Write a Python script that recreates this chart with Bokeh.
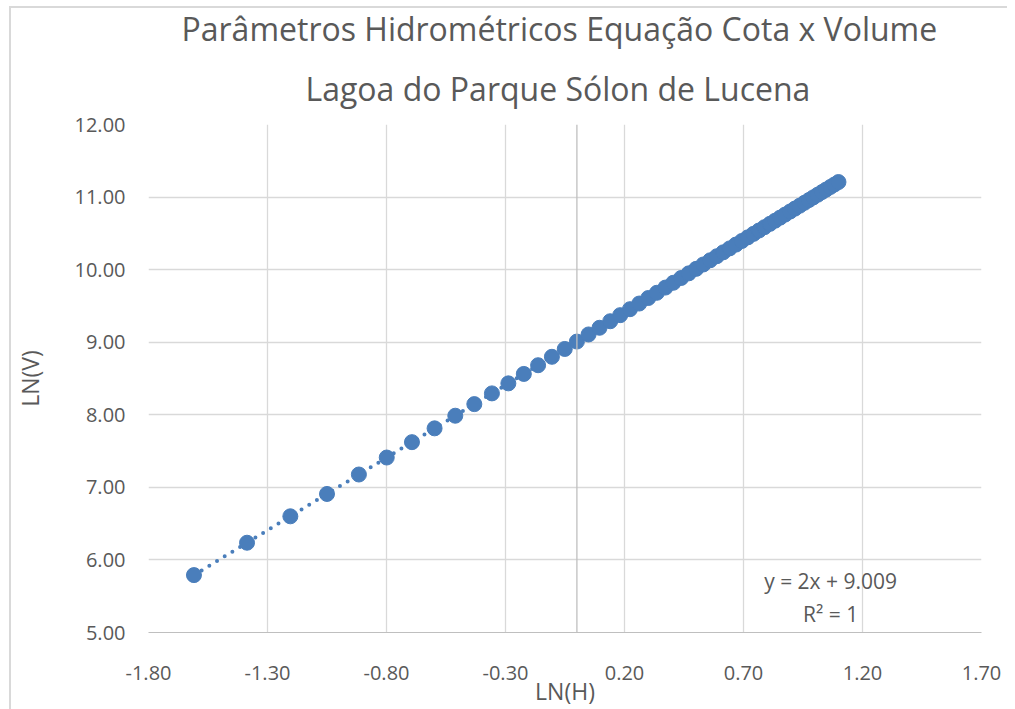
from bokeh.plotting import figure
from bokeh.models import (Range1d, FixedTicker, PrintfTickFormatter, Span, Title,
                          ColumnDataSource)
from bokeh.core.properties import value
from bokeh.embed import file_html
from bokeh.resources import INLINE

# ---- data ----
ln_h = [-1.609, -1.386, -1.204, -1.050, -0.916, -0.799, -0.693, -0.598, -0.511, -0.431,
        -0.357, -0.288, -0.223, -0.163, -0.105, -0.051, 0.000, 0.049, 0.095, 0.140,
        0.182, 0.223, 0.262, 0.300, 0.336, 0.372, 0.405, 0.438, 0.470, 0.501,
        0.531, 0.560, 0.588, 0.615, 0.642, 0.668, 0.693, 0.718, 0.742, 0.765,
        0.788, 0.811, 0.833, 0.854, 0.875, 0.896, 0.916, 0.936, 0.956, 0.975,
        0.993, 1.012, 1.030, 1.047, 1.065, 1.082, 1.099]
ln_v = [5.791, 6.237, 6.601, 6.909, 7.177, 7.411, 7.623, 7.813, 7.987, 8.147,
        8.295, 8.433, 8.563, 8.683, 8.799, 8.907, 9.009, 9.107, 9.199, 9.289,
        9.373, 9.455, 9.533, 9.609, 9.681, 9.753, 9.819, 9.885, 9.949, 10.011,
        10.071, 10.129, 10.185, 10.239, 10.293, 10.345, 10.395, 10.445, 10.493, 10.539,
        10.585, 10.631, 10.675, 10.717, 10.759, 10.801, 10.841, 10.881, 10.921, 10.959,
        10.995, 11.033, 11.069, 11.103, 11.139, 11.173, 11.207]
trend_slope = 2.0
trend_intercept = 9.009
x_ticks = [-1.8, -1.3, -0.8, -0.3, 0.2, 0.7, 1.2, 1.7]
y_ticks = [5, 6, 7, 8, 9, 10, 11, 12]
title_line1 = "Parâmetros Hidrométricos Equação Cota x Volume"
title_line2 = "Lagoa do Parque Sólon de Lucena"
eq_lines = ["y = 2x + 9.009", "R² = 1"]

FONT = "Open Sans"
GREY = "#595959"
BLUE = "#4A7EBB"

p = figure(width=1007, height=709, output_backend="svg", toolbar_location=None,
           x_range=Range1d(-1.8, 1.7), y_range=Range1d(5, 12),
           min_border_left=148, min_border_right=26, min_border_top=124, min_border_bottom=76)
p.outline_line_color = None
p.background_fill_color = "white"
p.border_fill_color = None
p.styles = {
    "background": "linear-gradient(#D9D9D9,#D9D9D9) 9px 7px / 2px 100% no-repeat, "
                  "linear-gradient(#D9D9D9,#D9D9D9) 9px 6px / 100% 2px no-repeat, white"
}

# titles (first added is nearest the plot)
t2 = Title(text=title_line2, align="left", text_font=FONT, text_font_size="32px",
           text_font_style="normal", text_color=GREY, offset=157, standoff=30)
t1 = Title(text=title_line1, align="left", text_font=FONT, text_font_size="32px",
           text_font_style="normal", text_color=GREY, offset=33, standoff=0)
p.add_layout(t2, "above")
p.add_layout(t1, "above")

# axes
for ax in (p.xaxis[0], p.yaxis[0]):
    ax.major_tick_in = 0
    ax.major_tick_out = 0
    ax.minor_tick_in = 0
    ax.minor_tick_out = 0
    ax.major_label_text_font = FONT
    ax.major_label_text_font_size = "20px"
    ax.major_label_text_color = GREY
    ax.axis_label_text_font = FONT
    ax.axis_label_text_font_size = "23px"
    ax.axis_label_text_font_style = "normal"
    ax.axis_label_text_color = GREY
    ax.formatter = PrintfTickFormatter(format="%.2f")

p.xaxis.ticker = FixedTicker(ticks=x_ticks)
p.yaxis.ticker = FixedTicker(ticks=y_ticks)
p.xaxis.axis_label = "LN(H)"
p.yaxis.axis_label = "LN(V)"
p.xaxis.axis_line_color = "#BFBFBF"
p.yaxis.axis_line_color = None
p.xaxis.major_label_standoff = 33
p.yaxis.major_label_standoff = 23
p.xaxis.axis_label_standoff = -8
p.yaxis.axis_label_standoff = 26

p.grid.grid_line_color = "#D9D9D9"
p.grid.grid_line_width = 1.3

# vertical axis crossing at x = 0
p.add_layout(Span(location=0, dimension="height", line_color="#BFBFBF", line_width=1.3))

# trendline
tx = [min(ln_h), max(ln_h)]
ty = [trend_slope * v + trend_intercept for v in tx]
p.line(tx, ty, line_color=BLUE, line_width=4, line_dash="0 9", line_cap="round")

src = ColumnDataSource(dict(x=ln_h, y=ln_v))
p.scatter("x", "y", source=src, size=15, fill_color=BLUE, line_color=BLUE)

# equation label
p.text(x=[1.066, 1.066], y=[5.71, 5.25], text=eq_lines, text_font=value(FONT),
       text_font_size="21px", text_color=GREY, text_align="center", text_baseline="middle")

open("out.html", "w").write(file_html(p, INLINE))
